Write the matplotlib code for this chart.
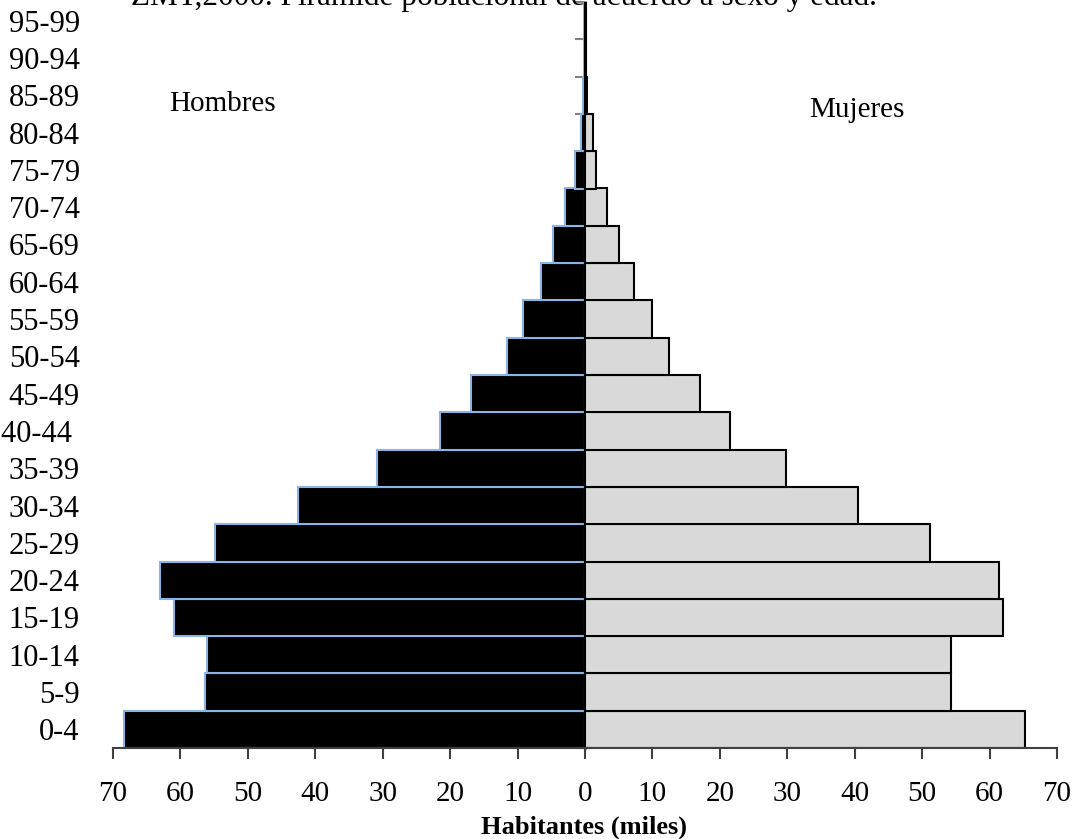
import matplotlib
matplotlib.use('Agg')
import matplotlib.pyplot as plt
import numpy as np

plt.rcParams['font.family'] = ['Liberation Serif', 'DejaVu Serif']

# grupos de edad, de abajo hacia arriba
age_groups = ['0-4', '5-9', '10-14', '15-19', '20-24', '25-29', '30-34', '35-39',
              '40-44 ', '45-49', '50-54', '55-59', '60-64', '65-69', '70-74',
              '75-79', '80-84', '85-89', '90-94', '95-99']
# miles de habitantes
hombres = [68.4, 56.4, 56.1, 61.0, 63.1, 54.8, 42.6, 30.9, 21.5, 16.9,
           11.6, 9.2, 6.5, 4.7, 3.0, 1.5, 0.6, 0.3, 0.2, 0.1]
mujeres = [65.3, 54.3, 54.3, 62.0, 61.4, 51.2, 40.5, 29.8, 21.5, 17.0,
           12.4, 9.9, 7.3, 5.0, 3.2, 1.7, 1.2, 0.3, 0.2, 0.1]
xticks = [-70, -60, -50, -40, -30, -20, -10, 0, 10, 20, 30, 40, 50, 60, 70]

fig = plt.figure(figsize=(10.73, 8.39), dpi=100)
ax = fig.add_axes([113/1073, 91/839, 944/1073, 746/839])

y = np.arange(len(age_groups))
ax.barh(y, -np.array(hombres), height=1.0, color='black',
        edgecolor='#8DB3E2', linewidth=1.5)
ax.barh(y, mujeres, height=1.0, color='#D9D9D9',
        edgecolor='black', linewidth=1.5)

ax.set_xlim(-70, 70)
ax.set_ylim(-0.5, len(age_groups) - 0.5)

ax.set_xticks(xticks)
ax.set_xticklabels([str(abs(v)) for v in xticks], fontsize=21)
ax.tick_params(axis='x', direction='out', length=8, width=1.5,
               color='#404040', pad=16)
ax.set_yticks(y)
ax.set_yticklabels(age_groups, fontsize=22)
ax.tick_params(axis='y', length=0, pad=24)

for s in ['top', 'right', 'left']:
    ax.spines[s].set_visible(False)
ax.spines['bottom'].set_color('#404040')
ax.spines['bottom'].set_linewidth(1.5)

# eje vertical en el cero
sec = ax.secondary_yaxis(0.5)
sec.set_alignment('left')
sec.set_yticks(np.arange(-0.5, len(age_groups), 1.0))
sec.set_yticklabels([])
sec.tick_params(length=7, width=1.5, color='#808080')
sec.spines['left'].set_color('#808080')
sec.spines['left'].set_linewidth(2)

ax.text(-61.6, 16.58, 'Hombres', fontsize=21, va='baseline', ha='left')
ax.text(33.2, 16.42, 'Mujeres', fontsize=21, va='baseline', ha='left')

fig.text(584/1073, 5/839, 'Habitantes (miles)', fontsize=19,
         fontweight='bold', ha='center', va='baseline')
fig.text(504/1073, 1 - 5/839,
         'ZMT,2000. Pirámide poblacional de acuerdo a sexo y edad.',
         fontsize=22.5, ha='center', va='baseline')

fig.savefig('out.png', dpi=100)
